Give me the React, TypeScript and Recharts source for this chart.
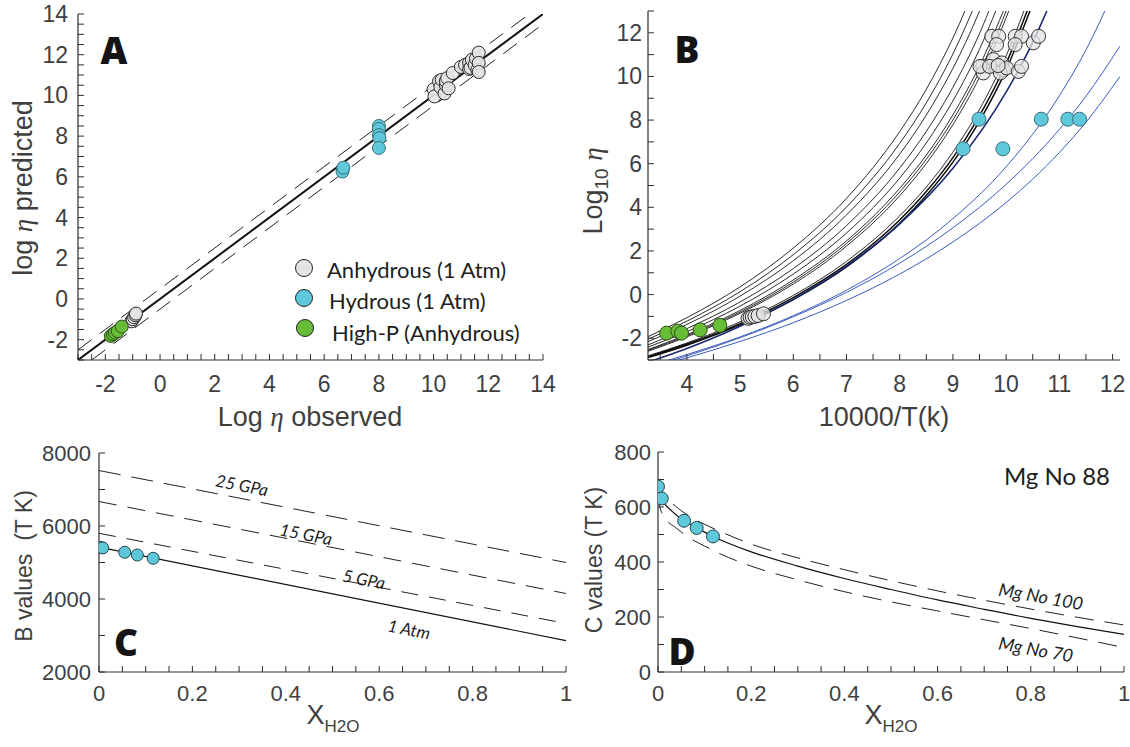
import React from 'react';
import { ComposedChart, Line, Scatter, XAxis, YAxis } from 'recharts';

const SANS = '"Liberation Sans", Arial, Helvetica, sans-serif';
const HUM = 'Lato, "Open Sans", sans-serif';
const SERIF = '"Liberation Serif", "DejaVu Serif", serif';
const TXT = '#3f3f3f';
const AX = '#2e2e2e';
const GRAY = '#e4e4e4';
const CYAN = '#5ec8da';
const GREEN = '#67bd35';
const BLUE = '#3a5cc0';
const NAVY = '#1b2a70';

type Pt = { x: number; y: number };
const pts = (xs: number[], ys: number[]): Pt[] => ys.map((y, i) => ({ x: xs[i], y }));
const range = (a: number, b: number, s: number) => {
  const out: number[] = [];
  for (let v = a; v <= b + 1e-9; v += s) out.push(Number(v.toFixed(4)));
  return out;
};

// ---------------- Panel A ----------------
const aMajorX = [-2, 0, 2, 4, 6, 8, 10, 12, 14];
const aMajorY = [-2, 0, 2, 4, 6, 8, 10, 12, 14];
const aIdentity: Pt[] = [{ x: -3, y: -3 }, { x: 14, y: 14 }];
const aUpper: Pt[] = [{ x: -3, y: -2.5 }, { x: 13.5, y: 14 }];
const aLower: Pt[] = [{ x: -2.5, y: -3 }, { x: 14, y: 13.5 }];
const aAnhydrous: Pt[] = [
  { x: -1.05, y: -1.1 }, { x: -1.0, y: -1.0 }, { x: -0.95, y: -0.9 }, { x: -0.9, y: -0.8 }, { x: -0.88, y: -0.72 },
  { x: 10.0, y: 10.3 }, { x: 10.03, y: 9.95 }, { x: 10.2, y: 10.7 }, { x: 10.25, y: 10.4 }, { x: 10.3, y: 10.77 },
  { x: 10.4, y: 10.1 }, { x: 10.45, y: 10.5 }, { x: 10.45, y: 10.7 }, { x: 10.5, y: 10.85 }, { x: 10.55, y: 10.35 },
  { x: 10.7, y: 11.1 }, { x: 11.0, y: 11.4 }, { x: 11.15, y: 11.5 }, { x: 11.3, y: 11.6 }, { x: 11.3, y: 11.3 },
  { x: 11.35, y: 11.35 }, { x: 11.4, y: 11.75 }, { x: 11.5, y: 11.5 }, { x: 11.55, y: 11.8 }, { x: 11.6, y: 11.25 },
  { x: 11.65, y: 12.1 }, { x: 11.65, y: 11.6 }, { x: 11.65, y: 11.15 },
];
const aHydrous: Pt[] = [
  { x: 6.67, y: 6.26 }, { x: 6.7, y: 6.45 }, { x: 8.0, y: 8.5 }, { x: 8.0, y: 8.35 }, { x: 8.0, y: 8.05 },
  { x: 8.02, y: 7.9 }, { x: 8.0, y: 7.42 },
];
const aHighP: Pt[] = [
  { x: -1.8, y: -1.82 }, { x: -1.72, y: -1.74 }, { x: -1.65, y: -1.66 }, { x: -1.55, y: -1.58 }, { x: -1.4, y: -1.36 },
];

// ---------------- Panel B ----------------
const bMajorX = [4, 5, 6, 7, 8, 9, 10, 11, 12];
const bMajorY = [-2, 0, 2, 4, 6, 8, 10, 12];
const bX = [3.27, 4, 5, 6, 7, 8, 8.5, 9, 9.5, 10, 10.5];
const bBlack: number[][] = [
  [-1.93, -1.06, 0.35, 2.13, 4.41, 7.47, 9.41, 11.76, 14.62],
  [-2.05, -1.22, 0.13, 1.83, 4.01, 6.93, 8.79, 11.03, 13.77],
  [-2.16, -1.37, -0.07, 1.55, 3.65, 6.44, 8.23, 10.37, 13.0, 16.29],
  [-2.31, -1.56, -0.34, 1.19, 3.16, 5.8, 7.48, 9.5, 11.97, 15.07],
  [-2.41, -1.7, -0.53, 0.94, 2.82, 5.34, 6.95, 8.88, 11.25, 14.21],
  [-2.52, -1.84, -0.73, 0.67, 2.46, 4.87, 6.39, 8.24, 10.49, 13.31],
  [-2.56, -1.89, -0.8, 0.57, 2.34, 4.7, 6.2, 8.01, 10.23, 13.0, 16.58],
  [-2.6, -1.94, -0.86, 0.48, 2.22, 4.53, 6.01, 7.79, 9.96, 12.69, 16.2],
  [-2.81, -2.22, -1.25, -0.04, 1.52, 3.61, 4.93, 6.53, 8.49, 10.94, 14.11],
];
const bBlackThick: number[][] = [
  [-2.85, -2.27, -1.33, -0.14, 1.38, 3.42, 4.72, 6.28, 8.2, 10.59, 13.69],
  [-2.89, -2.32, -1.39, -0.23, 1.27, 3.27, 4.54, 6.07, 7.95, 10.3, 13.34],
];
const bNavyX = [3.27, 4, 5, 6, 7, 8, 9, 10, 10.5, 11];
const bNavyY = [-3.1, -2.47, -1.45, -0.22, 1.3, 3.24, 5.79, 9.28, 11.56, 14.37];
const bBlue1X = [3.6, 4, 5, 6, 7, 8, 9, 10, 11, 11.5, 12];
const bBlue1Y = [-3.05, -2.75, -1.94, -0.97, 0.2, 1.65, 3.48, 5.86, 9.11, 11.21, 13.77];
const bBlue2X = [3.7, 4, 5, 6, 7, 8, 9, 10, 11, 11.5, 12.14];
const bBlue2Y = [-3.04, -2.81, -1.98, -1.02, 0.1, 1.44, 3.06, 5.05, 7.57, 9.09, 11.39];
const bBlue3X = [3.8, 4, 5, 6, 7, 8, 9, 10, 11, 11.5, 12.14];
const bBlue3Y = [-3.04, -2.9, -2.15, -1.29, -0.27, 0.94, 2.41, 4.22, 6.51, 7.9, 10.0];
const bGray: Pt[] = [
  { x: 5.15, y: -1.09 }, { x: 5.19, y: -1.04 }, { x: 5.23, y: -1.02 }, { x: 5.28, y: -1.0 }, { x: 5.34, y: -0.96 }, { x: 5.44, y: -0.88 },
  { x: 9.73, y: 11.84 }, { x: 9.86, y: 11.84 }, { x: 9.82, y: 11.46 }, { x: 10.17, y: 11.84 }, { x: 10.29, y: 11.84 },
  { x: 10.17, y: 11.46 }, { x: 10.51, y: 11.54 }, { x: 10.61, y: 11.84 }, { x: 9.56, y: 10.46 }, { x: 9.57, y: 10.16 },
  { x: 9.76, y: 10.77 }, { x: 9.82, y: 10.46 }, { x: 9.92, y: 10.62 }, { x: 9.95, y: 10.31 }, { x: 9.89, y: 10.16 },
  { x: 10.01, y: 10.39 }, { x: 10.23, y: 10.23 }, { x: 10.29, y: 10.46 }, { x: 9.51, y: 10.46 }, { x: 9.69, y: 10.46 },
  { x: 9.85, y: 10.5 },
];
const bGreen: Pt[] = [
  { x: 3.62, y: -1.77 }, { x: 3.83, y: -1.68 }, { x: 3.9, y: -1.77 }, { x: 4.25, y: -1.62 }, { x: 4.62, y: -1.41 },
];
const bCyan: Pt[] = [
  { x: 9.19, y: 6.68 }, { x: 9.49, y: 8.04 }, { x: 9.94, y: 6.68 }, { x: 10.66, y: 8.04 }, { x: 11.16, y: 8.04 }, { x: 11.38, y: 8.04 },
];

// ---------------- Panel C ----------------
const cMajorX = [0, 0.2, 0.4, 0.6, 0.8, 1];
const cMajorY = [2000, 4000, 6000, 8000];
const cX = [0, 1];
const c1Atm = [5420, 2860];
const c5GPa = [5800, 3330];
const c15GPa = [6670, 4150];
const c25GPa = [7520, 5000];
const cPoints: Pt[] = [
  { x: 0, y: 5420 }, { x: 0.004, y: 5410 }, { x: 0.008, y: 5400 }, { x: 0.055, y: 5280 }, { x: 0.082, y: 5205 }, { x: 0.116, y: 5115 },
];

// ---------------- Panel D ----------------
const dMajorX = [0, 0.2, 0.4, 0.6, 0.8, 1];
const dMajorY = [0, 200, 400, 600, 800];
const dSolidX = [0, 0.008, 0.03, 0.056, 0.083, 0.118, 0.2, 0.3, 0.4, 0.5, 0.6, 0.7, 0.8, 0.9, 1.0];
const dSolidY = [690, 631, 585, 550, 524, 493, 437, 385, 340, 300, 262, 228, 195, 165, 137];
const dUpperX = [0, 0.01, 0.037, 0.066, 0.1, 0.131, 0.2, 0.3, 0.4, 0.5, 0.6, 0.7, 0.8, 0.9, 1.0];
const dUpperY = [700, 650, 604, 568, 537, 513, 465, 415, 372, 332, 295, 261, 229, 199, 171];
const dLowerX = [0, 0.004, 0.017, 0.038, 0.07, 0.1, 0.133, 0.2, 0.3, 0.4, 0.5, 0.6, 0.7, 0.8, 0.9, 1.0];
const dLowerY = [645, 600, 556, 525, 485, 458, 430, 385, 335, 292, 255, 222, 190, 158, 124, 89];
const dPoints: Pt[] = [
  { x: 0.0, y: 674 }, { x: 0.008, y: 631 }, { x: 0.056, y: 550 }, { x: 0.083, y: 524 }, { x: 0.118, y: 493 },
];

// ---------------- helpers ----------------
const fmt = (v: number) => String(Number(v.toFixed(3)));
const has = (arr: number[], v: number) => arr.some((m) => Math.abs(m - v) < 1e-7);

type Cfg = {
  xDomain: [number, number];
  yDomain: [number, number];
  xTicks: number[];
  yTicks: number[];
  xMajors: number[];
  yMajors: number[];
  font: number;
  xOff: number;
  yGap: number;
  len: number;
  yWidth: number;
  xHeight: number;
};

function axes(c: Cfg) {
  const bottomTick = (p: any) => {
    const v = p.payload.value;
    return (
      <g>
        <line x1={p.x} x2={p.x} y1={p.y} y2={p.y - c.len} stroke={AX} strokeWidth={1} />
        {has(c.xMajors, v) ? (
          <text x={p.x} y={p.y + c.xOff} textAnchor="middle" dominantBaseline="central" fontSize={c.font} fill={TXT} fontFamily={SANS}>
            {fmt(v)}
          </text>
        ) : null}
      </g>
    );
  };
  const topTick = (p: any) => <line x1={p.x} x2={p.x} y1={p.y} y2={p.y + c.len} stroke={AX} strokeWidth={1} />;
  const leftTick = (p: any) => {
    const v = p.payload.value;
    return (
      <g>
        <line x1={p.x} x2={p.x + c.len} y1={p.y} y2={p.y} stroke={AX} strokeWidth={1} />
        {has(c.yMajors, v) ? (
          <text x={p.x - c.yGap} y={p.y} textAnchor="end" dominantBaseline="central" fontSize={c.font} fill={TXT} fontFamily={SANS}>
            {fmt(v)}
          </text>
        ) : null}
      </g>
    );
  };
  const rightTick = (p: any) => <line x1={p.x} x2={p.x - c.len} y1={p.y} y2={p.y} stroke={AX} strokeWidth={1} />;
  const line = { stroke: AX, strokeWidth: 1.2 };
  return [
    <XAxis key="xb" xAxisId={0} dataKey="x" type="number" domain={c.xDomain} ticks={c.xTicks} interval={0}
      allowDataOverflow tickSize={0} tickMargin={0} tickLine={false} axisLine={line} height={c.xHeight} tick={bottomTick} />,
    <XAxis key="xt" xAxisId="top" orientation="top" dataKey="x" type="number" domain={c.xDomain} ticks={c.xTicks} interval={0}
      allowDataOverflow tickSize={0} tickMargin={0} tickLine={false} axisLine={line} height={0} tick={topTick} />,
    <YAxis key="yl" yAxisId={0} type="number" domain={c.yDomain} ticks={c.yTicks} interval={0}
      allowDataOverflow tickSize={0} tickMargin={0} tickLine={false} axisLine={line} width={c.yWidth} tick={leftTick} />,
    <YAxis key="yr" yAxisId="right" orientation="right" type="number" domain={c.yDomain} ticks={c.yTicks} interval={0}
      allowDataOverflow tickSize={0} tickMargin={0} tickLine={false} axisLine={line} width={0} tick={rightTick} />,
  ];
}

const dot = (r: number, fill: string, opacity = 1, stroke = '#2a2a2a') => (p: any) => (
  <circle cx={p.cx} cy={p.cy} r={r} fill={fill} fillOpacity={opacity} stroke={stroke} strokeWidth={1} />
);

const abs = (x: number, y: number, extra: React.CSSProperties = {}): React.CSSProperties => ({
  position: 'absolute',
  left: x,
  top: y,
  transform: 'translate(-50%, -50%)',
  whiteSpace: 'nowrap',
  lineHeight: 1,
  ...extra,
});

const Eta = () => <span style={{ fontFamily: SERIF, fontStyle: 'italic' }}>η</span>;

export default function App() {
  const cfgA: Cfg = {
    xDomain: [-3, 14], yDomain: [-3, 14], xTicks: range(-3, 14, 0.5), yTicks: range(-3, 14, 0.5),
    xMajors: aMajorX, yMajors: aMajorY, font: 23, xOff: 24, yGap: 10, len: 6, yWidth: 78, xHeight: 80,
  };
  const cfgB: Cfg = {
    xDomain: [3.27, 12.14], yDomain: [-3, 13], xTicks: range(3.5, 12, 0.5), yTicks: range(-3, 13, 1),
    xMajors: bMajorX, yMajors: bMajorY, font: 23, xOff: 24, yGap: 6, len: 6, yWidth: 88, xHeight: 80,
  };
  const cfgC: Cfg = {
    xDomain: [0, 1], yDomain: [2000, 8000], xTicks: range(0, 1, 0.05), yTicks: range(2000, 8000, 1000),
    xMajors: cMajorX, yMajors: cMajorY, font: 22, xOff: 21, yGap: 8, len: 6, yWidth: 99, xHeight: 75,
  };
  const cfgD: Cfg = {
    xDomain: [0, 1], yDomain: [0, 800], xTicks: range(0, 1, 0.05), yTicks: range(0, 800, 100),
    xMajors: dMajorX, yMajors: dMajorY, font: 22, xOff: 21, yGap: 7, len: 6, yWidth: 78, xHeight: 75,
  };

  const letter: React.CSSProperties = { fontFamily: '"Open Sans", Lato, sans-serif', fontWeight: 800, fontSize: 37, color: '#141414' };
  const title: React.CSSProperties = { fontFamily: SANS, fontSize: 27, color: TXT };
  const title2: React.CSSProperties = { fontFamily: SANS, fontSize: 23, color: TXT };
  const inl: React.CSSProperties = { fontFamily: HUM, fontStyle: 'italic', fontSize: 17, color: '#1e1e1e' };
  const legendText: React.CSSProperties = { fontFamily: HUM, fontSize: 22, color: '#1e1e1e', transform: 'translate(0, -50%)' };
  const legendDot = (x: number, y: number, fill: string): React.CSSProperties => ({
    position: 'absolute', left: x - 9, top: y - 9, width: 16, height: 16, borderRadius: '50%', background: fill, border: '1.3px solid #222',
  });

  return (
    <div style={{ position: 'absolute', left: 0, top: 0, width: 1130, height: 747, background: '#fff', overflow: 'hidden' }}>
      {/* Panel A */}
      <div style={{ position: 'absolute', left: 0, top: 0 }}>
        <ComposedChart width={560} height={440} margin={{ top: 14, right: 17, bottom: 0, left: 0 }}>
          {axes(cfgA)}
          <Line data={aUpper} dataKey="y" type="linear" dot={false} stroke="#222" strokeWidth={1} strokeDasharray="17 10" isAnimationActive={false} />
          <Line data={aLower} dataKey="y" type="linear" dot={false} stroke="#222" strokeWidth={1} strokeDasharray="17 10" isAnimationActive={false} />
          <Line data={aIdentity} dataKey="y" type="linear" dot={false} stroke="#111" strokeWidth={2} isAnimationActive={false} />
          <Scatter data={aAnhydrous} dataKey="y" shape={dot(6.5, GRAY, 0.9)} isAnimationActive={false} />
          <Scatter data={aHydrous} dataKey="y" shape={dot(6.5, CYAN, 1, '#3a6f7a')} isAnimationActive={false} />
          <Scatter data={aHighP} dataKey="y" shape={dot(6.5, GREEN, 1, '#2e4d1c')} isAnimationActive={false} />
        </ComposedChart>
      </div>

      {/* Panel B */}
      <div style={{ position: 'absolute', left: 560, top: 0 }}>
        <ComposedChart width={570} height={440} margin={{ top: 11, right: 10, bottom: 0, left: 0 }}>
          {axes(cfgB)}
          {bBlack.map((ys, i) => (
            <Line key={'k' + i} data={pts(bX, ys)} dataKey="y" type="monotone" dot={false} stroke="#151515" strokeWidth={0.9} isAnimationActive={false} />
          ))}
          {bBlackThick.map((ys, i) => (
            <Line key={'kt' + i} data={pts(bX, ys)} dataKey="y" type="monotone" dot={false} stroke="#0d0d0d" strokeWidth={1.5} isAnimationActive={false} />
          ))}
          <Line data={pts(bBlue1X, bBlue1Y)} dataKey="y" type="monotone" dot={false} stroke={BLUE} strokeWidth={1} isAnimationActive={false} />
          <Line data={pts(bBlue2X, bBlue2Y)} dataKey="y" type="monotone" dot={false} stroke={BLUE} strokeWidth={1} isAnimationActive={false} />
          <Line data={pts(bBlue3X, bBlue3Y)} dataKey="y" type="monotone" dot={false} stroke={BLUE} strokeWidth={1} isAnimationActive={false} />
          <Line data={pts(bNavyX, bNavyY)} dataKey="y" type="monotone" dot={false} stroke={NAVY} strokeWidth={1.6} isAnimationActive={false} />
          <Scatter data={bGray} dataKey="y" shape={dot(7, GRAY, 0.75, '#333')} isAnimationActive={false} />
          <Scatter data={bGreen} dataKey="y" shape={dot(7, GREEN, 1, '#2e4d1c')} isAnimationActive={false} />
          <Scatter data={bCyan} dataKey="y" shape={dot(7, CYAN, 1, '#3a6f7a')} isAnimationActive={false} />
        </ComposedChart>
      </div>

      {/* Panel C */}
      <div style={{ position: 'absolute', left: 0, top: 440 }}>
        <ComposedChart width={580} height={307} margin={{ top: 13, right: 14, bottom: 0, left: 0 }}>
          {axes(cfgC)}
          <Line data={pts(cX, c25GPa)} dataKey="y" type="linear" dot={false} stroke="#222" strokeWidth={1} strokeDasharray="22 11" isAnimationActive={false} />
          <Line data={pts(cX, c15GPa)} dataKey="y" type="linear" dot={false} stroke="#222" strokeWidth={1} strokeDasharray="18 11" isAnimationActive={false} />
          <Line data={pts(cX, c5GPa)} dataKey="y" type="linear" dot={false} stroke="#222" strokeWidth={1} strokeDasharray="17 11" isAnimationActive={false} />
          <Line data={pts(cX, c1Atm)} dataKey="y" type="linear" dot={false} stroke="#111" strokeWidth={1.2} isAnimationActive={false} />
          <Scatter data={cPoints} dataKey="y" shape={dot(6, CYAN, 1, '#23474f')} isAnimationActive={false} />
        </ComposedChart>
      </div>

      {/* Panel D */}
      <div style={{ position: 'absolute', left: 580, top: 440 }}>
        <ComposedChart width={550} height={307} margin={{ top: 12, right: 6, bottom: 0, left: 0 }}>
          {axes(cfgD)}
          <Line data={pts(dUpperX, dUpperY)} dataKey="y" type="monotone" dot={false} stroke="#222" strokeWidth={1} strokeDasharray="19 11" isAnimationActive={false} />
          <Line data={pts(dLowerX, dLowerY)} dataKey="y" type="monotone" dot={false} stroke="#222" strokeWidth={1} strokeDasharray="19 11" isAnimationActive={false} />
          <Line data={pts(dSolidX, dSolidY)} dataKey="y" type="monotone" dot={false} stroke="#111" strokeWidth={1.2} isAnimationActive={false} />
          <Scatter data={dPoints} dataKey="y" shape={dot(6.5, CYAN, 1, '#23474f')} isAnimationActive={false} />
        </ComposedChart>
      </div>

      {/* Panel A texts */}
      <div style={abs(114, 49, letter)}>A</div>
      <div style={abs(310, 417, title)}>Log <Eta /> observed</div>
      <div style={abs(23, 188, { ...title, transform: 'translate(-50%, -50%) rotate(-90deg)' })}>log <Eta /> predicted</div>
      <div style={legendDot(304, 268, GRAY)} />
      <div style={legendDot(304, 298, CYAN)} />
      <div style={legendDot(305, 328, GREEN)} />
      <div style={{ position: 'absolute', left: 327, top: 270, whiteSpace: 'nowrap', lineHeight: 1, ...legendText }}>Anhydrous (1 Atm)</div>
      <div style={{ position: 'absolute', left: 329, top: 301, whiteSpace: 'nowrap', lineHeight: 1, ...legendText }}>Hydrous (1 Atm)</div>
      <div style={{ position: 'absolute', left: 332, top: 333, whiteSpace: 'nowrap', lineHeight: 1, ...legendText }}>High-P (Anhydrous)</div>

      {/* Panel B texts */}
      <div style={abs(687, 48, letter)}>B</div>
      <div style={abs(884, 417, title)}>10000/T(k)</div>
      <div style={abs(595, 191, { ...title, transform: 'translate(-50%, -50%) rotate(-90deg)' })}>
        Log<sub style={{ fontSize: 19, verticalAlign: -6 }}>10</sub> <Eta />
      </div>

      {/* Panel C texts */}
      <div style={abs(126, 641, letter)}>C</div>
      <div style={abs(24, 566, { ...title2, transform: 'translate(-50%, -50%) rotate(-90deg)' })}>B values&nbsp; (T K)</div>
      <div style={abs(333, 718, { fontFamily: SANS, fontSize: 27, color: TXT })}>
        X<sub style={{ fontSize: 17, verticalAlign: -8 }}>H2O</sub>
      </div>
      <div style={abs(242, 485, { ...inl, transform: 'translate(-50%, -50%) rotate(11deg)' })}>25 GPa</div>
      <div style={abs(306, 534, { ...inl, transform: 'translate(-50%, -50%) rotate(11deg)' })}>15 GPa</div>
      <div style={abs(364, 579, { ...inl, transform: 'translate(-50%, -50%) rotate(11deg)' })}>5 GPa</div>
      <div style={abs(409, 629, { ...inl, transform: 'translate(-50%, -50%) rotate(11deg)' })}>1 Atm</div>

      {/* Panel D texts */}
      <div style={abs(682, 650, letter)}>D</div>
      <div style={abs(594, 560, { ...title2, transform: 'translate(-50%, -50%) rotate(-90deg)' })}>C values (T K)</div>
      <div style={abs(891, 718, { fontFamily: SANS, fontSize: 27, color: TXT })}>
        X<sub style={{ fontSize: 17, verticalAlign: -8 }}>H2O</sub>
      </div>
      <div style={abs(1057, 476, { fontFamily: HUM, fontSize: 24, color: '#1e1e1e' })}>Mg No 88</div>
      <div style={abs(1041, 596, { ...inl, fontSize: 18, transform: 'translate(-50%, -50%) rotate(10deg)' })}>Mg No 100</div>
      <div style={abs(1036, 649, { ...inl, fontSize: 18, transform: 'translate(-50%, -50%) rotate(10deg)' })}>Mg No 70</div>
    </div>
  );
}
